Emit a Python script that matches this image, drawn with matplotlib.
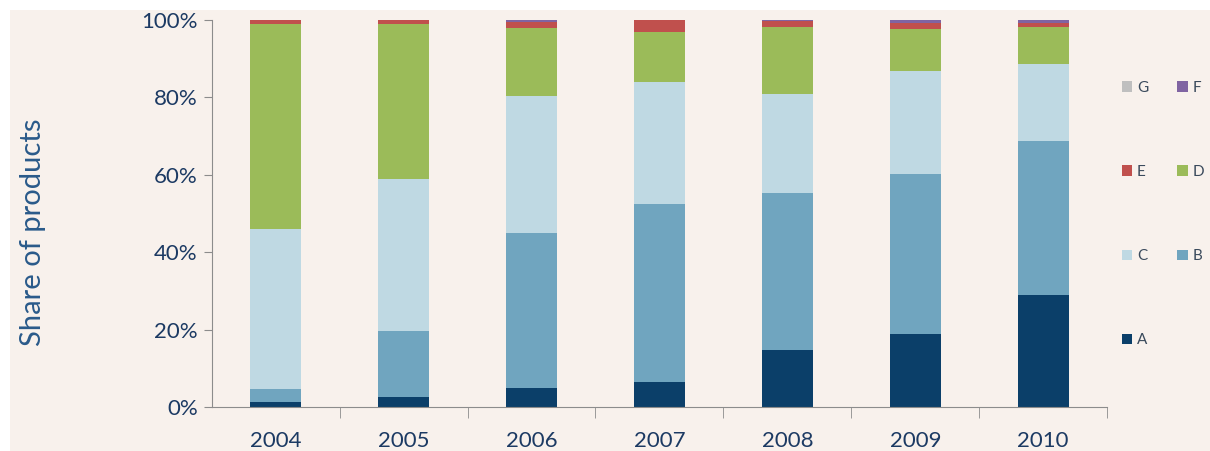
import numpy as np
import matplotlib.pyplot as plt
from matplotlib.patches import Rectangle, Patch

years = ["2004", "2005", "2006", "2007", "2008", "2009", "2010"]
share_a = [1.3, 2.6, 5.0, 6.5, 14.8, 18.9, 29.0]
share_b = [3.3, 17.0, 40.0, 46.0, 40.5, 41.3, 39.7]
share_c = [41.4, 39.4, 35.4, 31.5, 25.7, 26.6, 19.9]
share_d = [53.0, 40.0, 17.6, 13.0, 17.2, 10.9, 9.6]
share_e = [1.0, 1.0, 1.5, 3.0, 1.5, 1.5, 1.0]
share_f = [0.0, 0.0, 0.5, 0.0, 0.3, 0.8, 0.8]
share_g = [0.0, 0.0, 0.0, 0.0, 0.0, 0.0, 0.0]

series = [("A", share_a, "#0b3f69"), ("B", share_b, "#70a5bf"),
          ("C", share_c, "#bfd9e3"), ("D", share_d, "#9bbb59"),
          ("E", share_e, "#c0504d"), ("F", share_f, "#8064a2"),
          ("G", share_g, "#bfbfbf")]

plt.rcParams['font.family'] = ['Lato', 'DejaVu Sans']

cream = "#f8f1ec"
fig = plt.figure(figsize=(12.1, 4.51), dpi=100, facecolor="white")
fig.patches.append(Rectangle((10 / 1210, 0), 1, 1 - 10 / 451, transform=fig.transFigure,
                             facecolor=cream, edgecolor="none", zorder=-10))
ax = fig.add_axes((0.175, 0.0976, 0.74, 0.858))
ax.set_facecolor("none")

x = np.arange(len(years))
bottom = np.zeros(len(years))
handles = {}
for name, vals, col in series:
    vals = np.array(vals)
    ax.bar(x, vals, width=0.4, bottom=bottom, color=col, edgecolor="none")
    bottom += vals
    handles[name] = Patch(facecolor=col, edgecolor="none", label=name)

ax.set_xlim(-0.5, len(years) - 0.5)
ax.set_ylim(0, 100)
ax.set_yticks(np.arange(0, 101, 20))
ax.set_yticklabels([f"{v}%" for v in range(0, 101, 20)])
ax.set_xticks(x)
ax.set_xticklabels(years)
ax.set_xticks(np.arange(0.5, len(years), 1), minor=True)

spine_col = "#8c8c8c"
for s in ["top", "right"]:
    ax.spines[s].set_visible(False)
ax.spines["left"].set_color(spine_col)
ax.spines["bottom"].set_color(spine_col)
ax.tick_params(axis="y", colors=spine_col, length=6, labelcolor="#1c3a63",
               labelsize=16, pad=4)
ax.tick_params(axis="x", which="major", length=0, labelcolor="#1c3a63",
               labelsize=16, pad=17)
ax.tick_params(axis="x", which="minor", length=8, color=spine_col)

ax.set_ylabel("Share of products", fontsize=21, color="#2a5a8a")
ax.yaxis.set_label_coords(-0.185, 0.452)

order = ["G", "E", "C", "A", "F", "D", "B"]
fig.legend(handles=[handles[k] for k in order], loc="upper left",
           bbox_to_anchor=(1114 / 1210, 1 - 73 / 451), ncol=2, frameon=False,
           fontsize=11, labelcolor="#3a4a5c", handlelength=0.7, handleheight=0.7,
           handletextpad=0.3, labelspacing=4.6, columnspacing=1.9, borderpad=0)

fig.savefig("out.png", dpi=100, facecolor="white")
